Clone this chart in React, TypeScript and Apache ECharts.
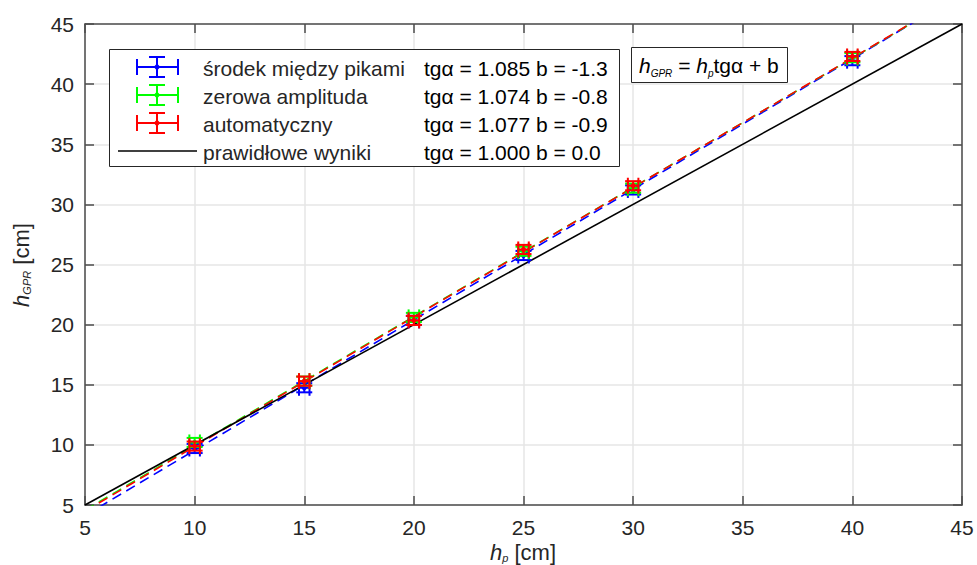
import React, { useEffect, useRef } from "react";
import * as echarts from "echarts";

const FONT = "Liberation Sans, Arial, sans-serif";
const TEXT_COLOR = "#262626";
const AXIS_COLOR = "#4d4d4d";

const xValues = [10, 15, 20, 25, 30, 40];
const blueY = [9.7, 14.75, 20.35, 25.75, 31.2, 41.95];
const greenY = [10.2, 15.3, 20.6, 26.1, 31.35, 42.2];
const redY = [9.9, 15.3, 20.35, 26.25, 31.55, 42.3];
const xErr = 0.24;
const yErr = 0.38;

const seriesNames = ["środek między pikami", "zerowa amplituda", "automatyczny", "prawidłowe wyniki"];
const seriesColors = ["#0000ff", "#00ff00", "#ff0000", "#000000"];
const slopes = [1.085, 1.074, 1.077, 1.0];
const intercepts = [-1.3, -0.8, -0.9, 0.0];
const coefTexts = [
  "tgα = 1.085 b = -1.3",
  "tgα = 1.074 b = -0.8",
  "tgα = 1.077 b = -0.9",
  "tgα = 1.000 b = 0.0",
];
const axisMin = 5;
const axisMax = 45;
const tickStep = 5;

function errorSeries(name: string, ys: number[], color: string) {
  return {
    name,
    type: "custom",
    z: 5,
    data: xValues.map((x, i) => [x, ys[i]]),
    renderItem: (params: any, api: any) => {
      const x = api.value(0);
      const y = api.value(1);
      const c = api.coord([x, y]);
      const l = api.coord([x - xErr, y]);
      const r = api.coord([x + xErr, y]);
      const t = api.coord([x, y + yErr]);
      const b = api.coord([x, y - yErr]);
      const cap = 8;
      const st = { stroke: color, lineWidth: 2 };
      return {
        type: "group",
        children: [
          { type: "line", shape: { x1: l[0], y1: l[1], x2: r[0], y2: r[1] }, style: st },
          { type: "line", shape: { x1: l[0], y1: l[1] - cap, x2: l[0], y2: l[1] + cap }, style: st },
          { type: "line", shape: { x1: r[0], y1: r[1] - cap, x2: r[0], y2: r[1] + cap }, style: st },
          { type: "line", shape: { x1: t[0], y1: t[1], x2: b[0], y2: b[1] }, style: st },
          { type: "line", shape: { x1: t[0] - cap, y1: t[1], x2: t[0] + cap, y2: t[1] }, style: st },
          { type: "line", shape: { x1: b[0] - cap, y1: b[1], x2: b[0] + cap, y2: b[1] }, style: st },
          { type: "circle", shape: { cx: c[0], cy: c[1], r: 2.5 }, style: { fill: color } },
        ],
      };
    },
  };
}

function fitSeries(i: number) {
  const dashed = i < 3;
  return {
    name: seriesNames[i] + " fit",
    type: "line",
    clip: true,
    symbol: "none",
    z: dashed ? 3 : 4,
    data: [
      [axisMin, slopes[i] * axisMin + intercepts[i]],
      [axisMax, slopes[i] * axisMax + intercepts[i]],
    ],
    lineStyle: {
      color: seriesColors[i],
      width: 1.6,
      type: dashed ? [10, 6] : "solid",
    },
  };
}

function legendGraphics() {
  const items: any[] = [];
  items.push({
    type: "rect",
    shape: { x: 109.5, y: 49.5, width: 510, height: 117 },
    style: { fill: "#ffffff", stroke: TEXT_COLOR, lineWidth: 1 },
    z: 100,
  });
  const rowY = [67, 95, 123, 151];
  const gx = 157;
  for (let i = 0; i < 4; i++) {
    const y = rowY[i];
    const color = seriesColors[i];
    const st = { stroke: color, lineWidth: 2 };
    if (i < 3) {
      items.push(
        { type: "line", shape: { x1: 137, y1: y, x2: 178, y2: y }, style: st, z: 101 },
        { type: "line", shape: { x1: 137, y1: y - 8, x2: 137, y2: y + 8 }, style: st, z: 101 },
        { type: "line", shape: { x1: 178, y1: y - 8, x2: 178, y2: y + 8 }, style: st, z: 101 },
        { type: "line", shape: { x1: gx, y1: y - 10, x2: gx, y2: y + 10 }, style: st, z: 101 },
        { type: "line", shape: { x1: gx - 8, y1: y - 10, x2: gx + 8, y2: y - 10 }, style: st, z: 101 },
        { type: "line", shape: { x1: gx - 8, y1: y + 10, x2: gx + 8, y2: y + 10 }, style: st, z: 101 },
        { type: "circle", shape: { cx: gx, cy: y, r: 2.5 }, style: { fill: color }, z: 101 }
      );
    } else {
      items.push({ type: "line", shape: { x1: 118, y1: y, x2: 197, y2: y }, style: { stroke: color, lineWidth: 1.5 }, z: 101 });
    }
    items.push({
      type: "text",
      x: 203,
      y: y + 1,
      z: 101,
      style: { text: seriesNames[i], font: `21px ${FONT}`, fill: TEXT_COLOR, textVerticalAlign: "middle" },
    });
    items.push({
      type: "text",
      x: 424,
      y: y + 1,
      z: 101,
      style: { text: coefTexts[i], font: `21px ${FONT}`, fill: "#000000", textVerticalAlign: "middle" },
    });
  }
  return items;
}

function richLabel(color: string) {
  return {
    i: { fontSize: 22, fontStyle: "italic", fontFamily: FONT, lineHeight: 22, fill: color },
    n: { fontSize: 22, fontFamily: FONT, lineHeight: 22, fill: color },
    s: { fontSize: 11, fontStyle: "italic", fontFamily: FONT, verticalAlign: "bottom", lineHeight: 20, fill: color },
  };
}

export default function App() {
  const ref = useRef<HTMLDivElement>(null);
  useEffect(() => {
    if (!ref.current) return;
    const chart = echarts.init(ref.current, undefined, { renderer: "svg" });
    const axisCommon = {
      type: "value",
      min: axisMin,
      max: axisMax,
      interval: tickStep,
      axisLine: { show: true, lineStyle: { color: AXIS_COLOR, width: 1.5 } },
      axisTick: { show: true, inside: true, length: 9, lineStyle: { color: AXIS_COLOR, width: 1.5 } },
    };
    chart.setOption({
      animation: false,
      backgroundColor: "#ffffff",
      grid: { left: 85, right: 15, top: 24, bottom: 60, containLabel: false },
      xAxis: [
        {
          ...axisCommon,
          position: "bottom",
          axisLabel: { color: TEXT_COLOR, fontSize: 21, fontFamily: FONT, margin: 12, lineHeight: 21 },
          splitLine: { show: true, lineStyle: { color: "#e6e6e6", width: 1.5 } },
        },
        {
          ...axisCommon,
          position: "top",
          axisLabel: { show: false },
          splitLine: { show: false },
        },
      ],
      yAxis: [
        {
          ...axisCommon,
          position: "left",
          axisLabel: { color: TEXT_COLOR, fontSize: 21, fontFamily: FONT, margin: 11 },
          splitLine: { show: true, lineStyle: { color: "#e6e6e6", width: 1.5 } },
        },
        {
          ...axisCommon,
          position: "right",
          axisLabel: { show: false },
          splitLine: { show: false },
        },
      ],
      series: [
        fitSeries(0),
        fitSeries(1),
        fitSeries(2),
        fitSeries(3),
        errorSeries(seriesNames[0], blueY, seriesColors[0]),
        errorSeries(seriesNames[1], greenY, seriesColors[1]),
        errorSeries(seriesNames[2], redY, seriesColors[2]),
      ],
      graphic: [
        ...legendGraphics(),
        {
          type: "rect",
          shape: { x: 631.5, y: 47.5, width: 156, height: 35 },
          style: { fill: "#ffffff", stroke: TEXT_COLOR, lineWidth: 1 },
          z: 100,
        },
        {
          type: "text",
          x: 639,
          y: 65,
          z: 101,
          style: {
            text: "{i|h}{s|GPR}{n| = }{i|h}{s|p}{n|tgα + b}",
            fill: "#000000",
            textVerticalAlign: "middle",
            rich: {
              i: { fontSize: 21, fontStyle: "italic", fontFamily: FONT, lineHeight: 26, fill: "#000" },
              n: { fontSize: 21, fontFamily: FONT, lineHeight: 26, fill: "#000" },
              s: { fontSize: 10, fontStyle: "italic", fontFamily: FONT, verticalAlign: "bottom", lineHeight: 24, fill: "#000" },
            },
          },
        },
        {
          type: "text",
          x: 523,
          y: 552,
          z: 101,
          style: {
            text: "{i|h}{s|p}{n| [cm]}",
            fill: TEXT_COLOR,
            textAlign: "center",
            textVerticalAlign: "middle",
            rich: richLabel(TEXT_COLOR),
          },
        },
        {
          type: "text",
          x: 21,
          y: 265,
          rotation: Math.PI / 2,
          z: 101,
          style: {
            text: "{i|h}{s|GPR}{n| [cm]}",
            fill: TEXT_COLOR,
            textAlign: "center",
            textVerticalAlign: "middle",
            rich: richLabel(TEXT_COLOR),
          },
        },
      ],
    });
    return () => chart.dispose();
  }, []);
  return <div ref={ref} style={{ width: 977, height: 565, position: "fixed", left: 0, top: 0 }} />;
}
